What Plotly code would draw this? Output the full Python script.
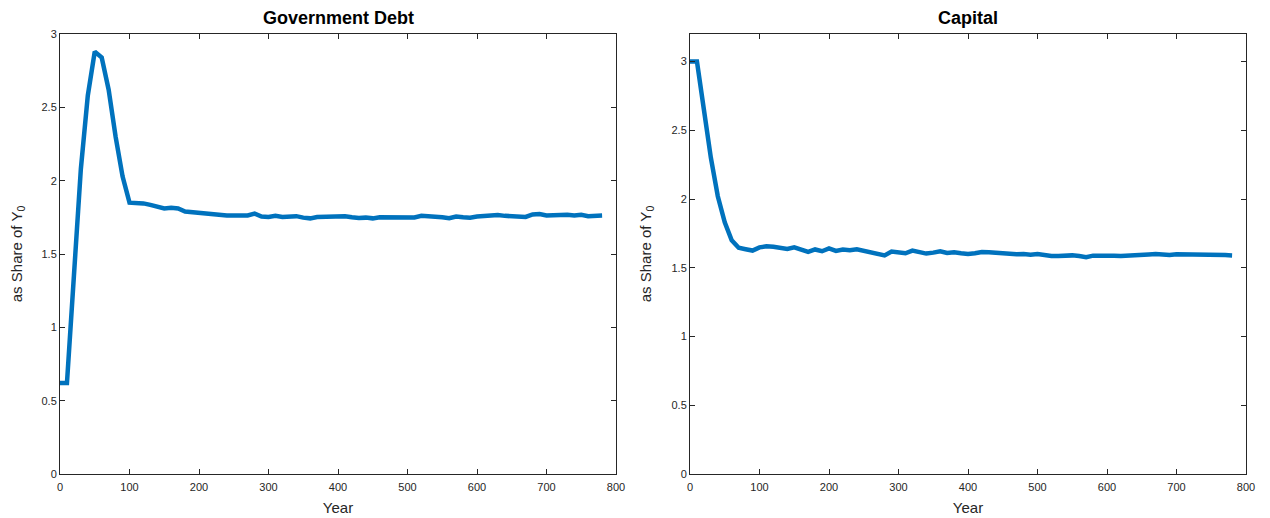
import plotly.graph_objects as go

years = list(range(0, 790, 10))

debt = [0.62, 0.62, 1.35, 2.08, 2.58, 2.88, 2.84, 2.62, 2.30, 2.03,
        1.85, 1.85, 1.845, 1.835, 1.825, 1.81, 1.815, 1.81, 1.79, 1.785,
        1.78, 1.782, 1.772, 1.768, 1.762, 1.763, 1.762, 1.763, 1.775, 1.755,
        1.752, 1.760, 1.752, 1.755, 1.758, 1.748, 1.743, 1.752, 1.755, 1.752,
        1.757, 1.758, 1.750, 1.745, 1.748, 1.743, 1.750, 1.750, 1.748, 1.746,
        1.750, 1.749, 1.760, 1.758, 1.757, 1.750, 1.744, 1.756, 1.750, 1.748,
        1.755, 1.760, 1.767, 1.765, 1.760, 1.757, 1.755, 1.753, 1.770, 1.772,
        1.762, 1.765, 1.764, 1.767, 1.762, 1.768, 1.758, 1.760, 1.762]

capital = [3.0, 3.0, 2.65, 2.30, 2.02, 1.83, 1.70, 1.645, 1.635, 1.625,
           1.648, 1.656, 1.652, 1.647, 1.636, 1.648, 1.630, 1.615, 1.633, 1.620,
           1.640, 1.622, 1.632, 1.628, 1.634, 1.624, 1.615, 1.608, 1.590, 1.618,
           1.612, 1.605, 1.625, 1.615, 1.603, 1.610, 1.620, 1.608, 1.612, 1.605,
           1.600, 1.605, 1.615, 1.612, 1.607, 1.607, 1.598, 1.598, 1.600, 1.595,
           1.600, 1.590, 1.585, 1.585, 1.588, 1.590, 1.585, 1.577, 1.588, 1.590,
           1.590, 1.587, 1.585, 1.590, 1.595, 1.592, 1.597, 1.600, 1.592, 1.592,
           1.598, 1.598, 1.598, 1.600, 1.595, 1.597, 1.595, 1.592, 1.590]

titles = ["Government Debt", "Capital"]
x_ticks = [0, 100, 200, 300, 400, 500, 600, 700, 800]
y_ticks = [0, 0.5, 1, 1.5, 2, 2.5, 3]
y_tick_text = ["0", "0.5", "1", "1.5", "2", "2.5", "3"]
y_ranges = [[0, 3], [0, 3.2]]

W, H = 1270, 518
OFF = 8  # page body margin
LINE = "#0072BD"
AX = "#262626"
FONT = "Liberation Sans, Arial, sans-serif"

fig = go.Figure()
fig.add_trace(go.Scatter(x=years, y=debt, mode="lines",
                         line=dict(color=LINE, width=4.5), xaxis="x", yaxis="y",
                         showlegend=False))
fig.add_trace(go.Scatter(x=years, y=capital, mode="lines",
                         line=dict(color=LINE, width=4.5), xaxis="x2", yaxis="y2",
                         showlegend=False))

xdoms = [[(60 - OFF) / W, (616 - OFF) / W], [(690 - OFF) / W, (1246 - OFF) / W]]
ydom = [1 - (474 - OFF) / H, 1 - (34 - OFF) / H]

axis_common = dict(showgrid=False, zeroline=False, showline=True, linecolor=AX,
                   linewidth=1, mirror="ticks", ticks="inside", ticklen=5,
                   tickcolor=AX, tickfont=dict(family=FONT, size=11, color=AX),
                   automargin=False)

layout = dict(width=W, height=H, plot_bgcolor="white", paper_bgcolor="white",
              margin=dict(l=0, r=0, t=0, b=0), showlegend=False)

for i in range(2):
    sx = "" if i == 0 else "2"
    layout["xaxis" + sx] = dict(axis_common, domain=xdoms[i], range=[0, 800],
                                tickvals=x_ticks, anchor="y" + sx, ticklabelstandoff=3,
                                title=dict(text="Year", standoff=10,
                                           font=dict(family=FONT, size=15, color=AX)))
    layout["yaxis" + sx] = dict(axis_common, domain=ydom, range=y_ranges[i],
                                tickvals=y_ticks, ticktext=y_tick_text, anchor="x" + sx,
                                title=dict(text="as Share of Y<sub>0</sub>", standoff=16,
                                           font=dict(family=FONT, size=15, color=AX)))

fig.update_layout(**layout)

for i in range(2):
    fig.add_annotation(text="<b>" + titles[i] + "</b>", xref="paper", yref="paper",
                       x=(xdoms[i][0] + xdoms[i][1]) / 2, y=ydom[1], yshift=4,
                       xanchor="center", yanchor="bottom", showarrow=False,
                       font=dict(family=FONT, size=18, color="black"))

fig.write_html("out.html")
